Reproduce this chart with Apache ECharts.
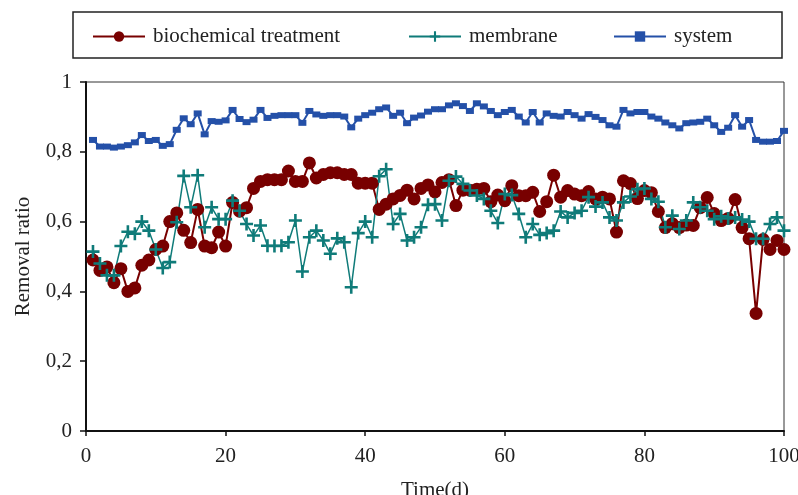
<!DOCTYPE html>
<html>
<head>
<meta charset="utf-8">
<script src="https://cdn.jsdelivr.net/npm/echarts@6/dist/echarts.min.js"></script>
<style>
html, body { margin: 0; padding: 0; background: #fff; }
#main { width: 798px; height: 495px; }
</style>
</head>
<body>
<div id="main"></div>
<script>
// days 1..100
var days = [];
for (var i = 1; i <= 100; i++) days.push(i);

var bioValues = [
  0.49, 0.46, 0.47, 0.425, 0.465, 0.40, 0.41, 0.475, 0.49, 0.52,
  0.53, 0.60, 0.625, 0.575, 0.54, 0.635, 0.53, 0.525, 0.57, 0.53,
  0.655, 0.63, 0.64, 0.695, 0.715, 0.72, 0.72, 0.72, 0.745, 0.715,
  0.715, 0.768, 0.725, 0.735, 0.74, 0.74, 0.735, 0.735, 0.71, 0.71,
  0.71, 0.635, 0.65, 0.665, 0.675, 0.69, 0.665, 0.695, 0.705, 0.685,
  0.712, 0.72, 0.646, 0.69, 0.69, 0.693, 0.695, 0.657, 0.676, 0.66,
  0.703, 0.674, 0.674, 0.684, 0.629, 0.657, 0.733, 0.67, 0.689, 0.679,
  0.674, 0.686, 0.665, 0.67, 0.665, 0.57, 0.717, 0.709, 0.666, 0.689,
  0.683, 0.629, 0.583, 0.594, 0.583, 0.59, 0.589, 0.64, 0.669, 0.623,
  0.603, 0.609, 0.663, 0.583, 0.551, 0.337, 0.549, 0.52, 0.546, 0.52
];

var membraneValues = [
  0.514, 0.48, 0.446, 0.446, 0.53, 0.571, 0.565, 0.60, 0.574, 0.52,
  0.467, 0.484, 0.598, 0.731, 0.641, 0.733, 0.584, 0.641, 0.607, 0.607,
  0.66, 0.631, 0.593, 0.56, 0.589, 0.531, 0.53, 0.531, 0.541, 0.603,
  0.457, 0.555, 0.574, 0.546, 0.508, 0.552, 0.541, 0.412, 0.567, 0.60,
  0.555, 0.73, 0.75, 0.593, 0.622, 0.546, 0.555, 0.584, 0.648, 0.65,
  0.603, 0.717, 0.729, 0.708, 0.689, 0.675, 0.665, 0.631, 0.596, 0.679,
  0.676, 0.622, 0.555, 0.593, 0.562, 0.567, 0.574, 0.629, 0.612, 0.625,
  0.631, 0.67, 0.643, 0.655, 0.612, 0.603, 0.655, 0.672, 0.693, 0.695,
  0.665, 0.657, 0.584, 0.617, 0.579, 0.603, 0.655, 0.641, 0.631, 0.607,
  0.615, 0.609, 0.612, 0.606, 0.60, 0.551, 0.551, 0.593, 0.612, 0.574
];

var systemValues = [
  0.834, 0.815, 0.815, 0.812, 0.815, 0.819, 0.827, 0.848, 0.831, 0.834,
  0.817, 0.822, 0.863, 0.896, 0.879, 0.91, 0.85, 0.888, 0.886, 0.89,
  0.92, 0.894, 0.885, 0.892, 0.92, 0.897, 0.903, 0.905, 0.905, 0.905,
  0.883, 0.917, 0.907, 0.903, 0.905, 0.905, 0.901, 0.87, 0.895, 0.905,
  0.912, 0.922, 0.927, 0.903, 0.912, 0.882, 0.898, 0.904, 0.915, 0.922,
  0.922, 0.933, 0.939, 0.931, 0.917, 0.939, 0.93, 0.917, 0.905, 0.914,
  0.92, 0.901, 0.884, 0.914, 0.884, 0.91, 0.903, 0.901, 0.914, 0.905,
  0.895, 0.908, 0.90, 0.891, 0.876, 0.872, 0.92, 0.91, 0.914, 0.914,
  0.901, 0.895, 0.884, 0.876, 0.867, 0.882, 0.884, 0.886, 0.895, 0.876,
  0.857, 0.869, 0.905, 0.872, 0.891, 0.834, 0.829, 0.829, 0.831, 0.86
];

var xTicks = [0, 20, 40, 60, 80, 100];
var yTicks = [0, 0.2, 0.4, 0.6, 0.8, 1];

function pairs(vals) {
  return days.map(function (d, k) { return [d, vals[k]]; });
}

var FONT = 'Liberation Serif';
var plus = 'path://M4,0L6,0L6,4L10,4L10,6L6,6L6,10L4,10L4,6L0,6L0,4L4,4Z';

var chart = echarts.init(document.getElementById('main'), null, { renderer: 'canvas' });

var legendBase = {
  top: 21,
  itemWidth: 52,
  itemHeight: 13,
  textStyle: { fontFamily: FONT, fontSize: 21, color: '#222', padding: [0, 0, 0, 3] }
};

var option = {
  backgroundColor: '#fff',
  animation: false,
  graphic: [{
    type: 'rect',
    shape: { x: 73, y: 12, width: 709, height: 46 },
    style: { fill: 'none', stroke: '#222', lineWidth: 1.5 }
  }],
  legend: [
    Object.assign({ left: 87, data: ['biochemical treatment'] }, legendBase),
    Object.assign({ left: 403, data: ['membrane'] }, legendBase),
    Object.assign({ left: 608, data: ['system'] }, legendBase)
  ],
  grid: {
    left: 86, right: 14, top: 82, bottom: 64,
    outerBoundsMode: 'none',
    containLabel: false,
    show: true, borderColor: '#333', borderWidth: 1
  },
  xAxis: {
    type: 'value',
    min: xTicks[0], max: xTicks[xTicks.length - 1], interval: 20,
    name: 'Time(d)',
    nameLocation: 'middle',
    nameGap: 49,
    nameTextStyle: { fontFamily: FONT, fontSize: 21, color: '#222' },
    axisLine: { lineStyle: { color: '#111', width: 2 } },
    axisTick: { length: 5, lineStyle: { color: '#111', width: 1.5 } },
    axisLabel: { fontFamily: FONT, fontSize: 21, color: '#222', margin: 15 },
    splitLine: { show: false }
  },
  yAxis: {
    type: 'value',
    min: yTicks[0], max: yTicks[yTicks.length - 1], interval: 0.2,
    name: 'Removal ratio',
    nameLocation: 'middle',
    nameGap: 52,
    nameTextStyle: { fontFamily: FONT, fontSize: 21, color: '#222' },
    axisLine: { show: true, lineStyle: { color: '#111', width: 2 } },
    axisTick: { show: true, length: 6, lineStyle: { color: '#111', width: 1.5 } },
    axisLabel: {
      fontFamily: FONT, fontSize: 21, color: '#222', margin: 14,
      formatter: function (v) { return String(+v.toFixed(1)).replace('.', ','); }
    },
    splitLine: { show: false }
  },
  series: [
    {
      name: 'biochemical treatment',
      type: 'line',
      data: pairs(bioValues),
      symbol: 'circle',
      symbolSize: 13,
      color: '#780000',
      lineStyle: { color: '#780000', width: 2 },
      itemStyle: { color: '#780000' }
    },
    {
      name: 'membrane',
      type: 'line',
      data: pairs(membraneValues),
      symbol: plus,
      symbolSize: 13,
      color: '#0f7b79',
      lineStyle: { color: '#0f7b79', width: 1.5 },
      itemStyle: { color: '#0f7b79' }
    },
    {
      name: 'system',
      type: 'line',
      data: pairs(systemValues),
      symbol: 'rect',
      symbolSize: [8, 6],
      color: '#2450a8',
      lineStyle: { color: '#2450a8', width: 2 },
      itemStyle: { color: '#2450a8' }
    }
  ]
};

chart.setOption(option);
</script>
</body>
</html>
